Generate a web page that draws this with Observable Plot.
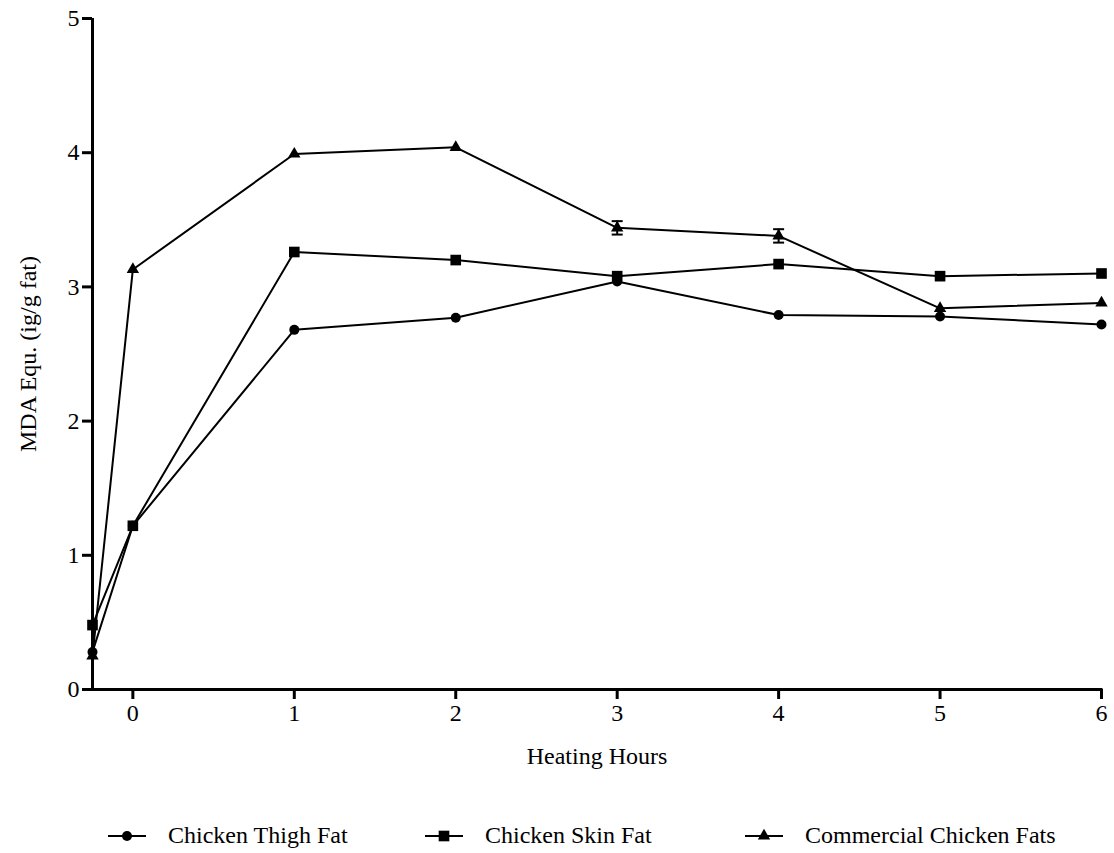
<!DOCTYPE html>
<html>
<head>
<meta charset="utf-8">
<script src="https://cdn.jsdelivr.net/npm/d3@7"></script>
<script src="https://cdn.jsdelivr.net/npm/@observablehq/plot@0.6"></script>
<style>
  html, body { margin: 0; padding: 0; background: #fff; }
  body { width: 1114px; height: 853px; overflow: hidden; font-family: "Liberation Serif", "Times New Roman", serif; }
  #legend { position: relative; height: 44px; margin-top: 9px; font-size: 24px; color: #000; }
  .item { position: absolute; top: 0; display: flex; align-items: center; height: 53px; }
  .item svg { margin-right: 22px; }
</style>
</head>
<body>
<div id="chart"></div>
<div id="legend"></div>
<script>
const hours = [-0.25, 0, 1, 2, 3, 4, 5, 6];
const seriesNames = ["Chicken Thigh Fat", "Chicken Skin Fat", "Commercial Chicken Fats"];
const thigh = [0.28, 1.22, 2.68, 2.77, 3.04, 2.79, 2.78, 2.72];
const skin = [0.48, 1.22, 3.26, 3.20, 3.08, 3.17, 3.08, 3.10];
const commercial = [0.25, 3.13, 3.99, 4.04, 3.44, 3.38, 2.84, 2.88];
const commercialErr = [0, 0, 0, 0, 0.05, 0.05, 0, 0];
const xTicks = [0, 1, 2, 3, 4, 5, 6];
const yTicks = [0, 1, 2, 3, 4, 5];
const xLabel = "Heating Hours";
const yLabel = "MDA Equ. (ig/g fat)";

const symbols = ["circle", "square", "triangle"];
const radii = [5, 6, 4.6];
const values = [thigh, skin, commercial];
const errors = [null, null, commercialErr];

const rows = [];
values.forEach((vals, i) => vals.forEach((v, j) => rows.push({
  series: seriesNames[i], x: hours[j], y: v,
  err: errors[i] ? errors[i][j] : 0, sym: symbols[i], r: radii[i]
})));
const errRows = rows.filter(d => d.err > 0);

const capSymbol = { draw(ctx, size) { const w = 5.5; ctx.moveTo(-w, 0); ctx.lineTo(w, 0); } };

const font = "Liberation Serif, Times New Roman, serif";
const marks = [
  Plot.ruleX(errRows, { x: "x", y1: d => d.y - d.err, y2: d => d.y + d.err, stroke: "#000", strokeWidth: 2 }),
  Plot.dot(errRows, { x: "x", y: d => d.y + d.err, symbol: capSymbol, stroke: "#000", strokeWidth: 2, r: 3 }),
  Plot.dot(errRows, { x: "x", y: d => d.y - d.err, symbol: capSymbol, stroke: "#000", strokeWidth: 2, r: 3 }),
];
seriesNames.forEach((name, i) => {
  const data = rows.filter(d => d.series === name);
  marks.push(Plot.line(data, { x: "x", y: "y", stroke: "#000", strokeWidth: 2 }));
  marks.push(Plot.dot(data, { x: "x", y: "y", symbol: symbols[i], r: radii[i], fill: "#000", stroke: "none" }));
});
marks.push(
  Plot.ruleX([hours[0]], { stroke: "#000", strokeWidth: 3 }),
  Plot.ruleY([0], { stroke: "#000", strokeWidth: 3, strokeLinecap: "square" }),
  Plot.axisX({ ticks: xTicks, tickFormat: d => String(d), tickSize: 10, tickPadding: 4, strokeWidth: 3, fontSize: 24,
    label: xLabel, labelAnchor: "center", labelArrow: "none", labelOffset: 74 }),
  Plot.axisY({ ticks: yTicks, tickFormat: d => String(d), tickSize: 10, tickPadding: 3, strokeWidth: 3, fontSize: 24,
    label: yLabel, labelAnchor: "center", labelArrow: "none", labelOffset: 74 })
);

const chart = Plot.plot({
  width: 1114,
  height: 800,
  marginTop: 18,
  marginBottom: 111,
  marginLeft: 92,
  marginRight: 13,
  style: { fontFamily: font, fontSize: "24px", color: "#000", background: "#fff", overflow: "visible" },
  x: { domain: [hours[0], 6] },
  y: { domain: [0, 5] },
  marks
});
document.getElementById("chart").appendChild(chart);

// legend
const legend = document.getElementById("legend");
const legendLeft = [108, 425, 745];
const sw = 38, sh = 20;
seriesNames.forEach((name, i) => {
  const item = document.createElement("div");
  item.className = "item";
  item.style.left = legendLeft[i] + "px";
  const svg = d3.create("svg").attr("width", sw).attr("height", sh);
  svg.append("line").attr("x1", 0).attr("x2", sw).attr("y1", sh / 2).attr("y2", sh / 2).attr("stroke", "#000").attr("stroke-width", 2);
  const symType = i === 0 ? d3.symbolCircle : i === 1 ? d3.symbolSquare : d3.symbolTriangle;
  svg.append("path").attr("transform", `translate(${sw / 2},${sh / 2})`)
    .attr("d", d3.symbol(symType, Math.PI * radii[i] * radii[i])()).attr("fill", "#000");
  item.appendChild(svg.node());
  const span = document.createElement("span");
  span.textContent = name;
  item.appendChild(span);
  legend.appendChild(item);
});
</script>
</body>
</html>
